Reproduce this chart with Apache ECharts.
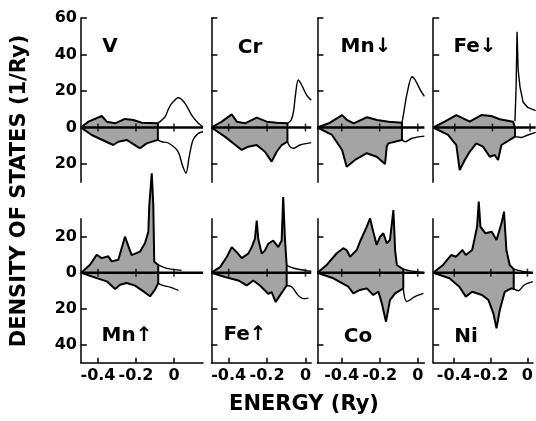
<!DOCTYPE html>
<html>
<head>
<meta charset="utf-8">
<script src="https://cdn.jsdelivr.net/npm/echarts@6/dist/echarts.min.js"></script>
<style>
    html, body { margin: 0; padding: 0; background: #fff; }
    #chart { width: 536px; height: 421px; }
</style>
</head>
<body>
<div id="chart"></div>
<script>
// 各面板的态密度曲线 [能量(Ry), 态密度(1/Ry)]，下半部分取负值
const V_up = [[-0.49,0],[-0.45,3.2],[-0.38,6.3],[-0.354,3.2],[-0.31,2.3],[-0.258,4.7],[-0.214,4.1],[-0.17,2.6],[-0.085,2.3],
    [-0.047,5.9],[-0.03,10],[-0.012,13.2],[0.023,16.3],[0.058,13.2],[0.093,6.8],[0.128,2.3],[0.153,0.4]];
const V_dn = [[-0.49,0],[-0.433,-4.1],[-0.32,-9.6],[-0.293,-7.8],[-0.249,-6.8],[-0.179,-11.4],[-0.144,-8.7],[-0.085,-6.8],
    [-0.065,-7.8],[-0.03,-8.5],[0.02,-13],[0.045,-21],[0.063,-25.1],[0.08,-16],[0.1,-6.8],[0.128,-3.2],[0.153,-2.3]];

const Cr_up = [[-0.49,0],[-0.436,3.2],[-0.384,7.2],[-0.358,3.2],[-0.315,2.3],[-0.254,5.4],[-0.202,3.2],[-0.15,2.6],[-0.094,2.3],
    [-0.075,4],[-0.062,9],[-0.052,18],[-0.038,26],[-0.02,23.3],[0.006,17.8],[0.03,15]];
const Cr_dn = [[-0.49,0],[-0.42,-5],[-0.332,-12.3],[-0.298,-10.5],[-0.254,-9.6],[-0.211,-13.3],[-0.176,-18.7],[-0.15,-13.3],[-0.124,-9.6],[-0.094,-7.8],
    [-0.081,-10.5],[-0.064,-11.4],[-0.029,-9.6],[0.03,-8.3]];

const Mnd_up = [[-0.528,0],[-0.468,2.3],[-0.398,6.8],[-0.372,4.1],[-0.337,2.3],[-0.267,5.6],[-0.214,4.1],[-0.153,3.2],[-0.083,2.6],
    [-0.074,7.8],[-0.056,18.7],[-0.03,27.8],[-0.013,26],[0.014,20.5],[0.035,17]];
const Mnd_dn = [[-0.528,0],[-0.451,-4.1],[-0.398,-12.3],[-0.374,-21.5],[-0.33,-17.8],[-0.268,-14.1],[-0.216,-16],[-0.172,-20],[-0.163,-10.5],[-0.155,-8.7],[-0.083,-6.8],
    [-0.065,-7.8],[-0.03,-5.9],[0.035,-4.7]];

const Fed_up = [[-0.514,0],[-0.454,3.2],[-0.392,6.8],[-0.356,5],[-0.321,3.2],[-0.259,6.8],[-0.206,6.3],[-0.161,4.5],[-0.09,3.2],[-0.08,3.5],
    [-0.074,22],[-0.069,52.5],[-0.063,31.5],[-0.053,22],[-0.037,14],[-0.012,11],[0.03,9.3]];
const Fed_dn = [[-0.514,0],[-0.436,-4.1],[-0.392,-9.6],[-0.374,-23.3],[-0.347,-17.8],[-0.321,-13.3],[-0.286,-8.7],[-0.25,-10.5],[-0.214,-16],[-0.188,-15.1],[-0.17,-17.8],[-0.152,-9.6],[-0.08,-5],
    [-0.046,-5.5],[-0.011,-4.1],[0.03,-2.7]];

const Mnu_up = [[-0.488,0],[-0.442,4.4],[-0.407,10],[-0.381,8.1],[-0.346,9.1],[-0.328,6.3],[-0.293,7.2],[-0.258,20],[-0.223,9.8],[-0.179,11.7],[-0.153,16.3],[-0.135,22.8],[-0.13,37.6],[-0.117,55.2],[-0.109,37.6],[-0.104,6.1],[-0.083,4.3],
    [-0.038,2.4],[0.04,1.3]];
const Mnu_dn = [[-0.488,0],[-0.407,-3],[-0.354,-4.8],[-0.31,-9.1],[-0.284,-6.7],[-0.249,-5.7],[-0.205,-7.2],[-0.161,-10.4],[-0.126,-13.1],[-0.1,-9.4],[-0.083,-5.9],
    [-0.056,-7.2],[-0.021,-8],[0.023,-9.8]];

const Feu_up = [[-0.49,0],[-0.445,3.1],[-0.41,8.7],[-0.384,14.2],[-0.358,11.4],[-0.332,8.1],[-0.298,10.6],[-0.28,14.2],[-0.263,18.9],[-0.254,29],[-0.246,18.9],[-0.228,10.6],[-0.211,12.4],[-0.194,16.1],[-0.168,17.9],[-0.142,14.2],[-0.124,17.9],[-0.116,42],[-0.107,18.9],[-0.098,4.1],
    [-0.064,2.6],[-0.003,1.3],[0.03,0.8]];
const Feu_dn = [[-0.49,0],[-0.419,-2.4],[-0.35,-4.3],[-0.306,-7.1],[-0.272,-4.3],[-0.237,-7.1],[-0.194,-11.7],[-0.176,-10.8],[-0.155,-16.3],[-0.133,-12.6],[-0.098,-7.1],
    [-0.072,-7.8],[-0.038,-12.6],[-0.011,-14.4],[0.015,-14.1]];

const Co_up = [[-0.528,0],[-0.479,4.3],[-0.426,10.8],[-0.392,13.6],[-0.374,12.6],[-0.356,8.9],[-0.321,12.6],[-0.304,17.2],[-0.268,25.6],[-0.251,30.2],[-0.234,22.8],[-0.216,15.4],[-0.198,20],[-0.181,21.9],[-0.163,16.3],[-0.146,18.2],[-0.128,34.8],[-0.119,12.6],[-0.11,4.3],[-0.076,1.9],
    [-0.04,1],[0.035,0]];
const Co_dn = [[-0.528,0],[-0.444,-3.1],[-0.365,-7.8],[-0.339,-11.5],[-0.304,-9.6],[-0.268,-8.7],[-0.234,-12.4],[-0.207,-10.5],[-0.189,-17],[-0.167,-27.2],[-0.146,-15.2],[-0.119,-11.5],[-0.076,-8.7],
    [-0.058,-16],[-0.014,-13.3],[0.03,-11.5]];

const Ni_up = [[-0.515,0],[-0.461,4.3],[-0.417,9.8],[-0.39,8.9],[-0.355,12.6],[-0.337,9.8],[-0.302,12.6],[-0.275,25.6],[-0.266,39.5],[-0.257,25.6],[-0.23,21.9],[-0.195,22.8],[-0.169,18.2],[-0.142,27.4],[-0.128,33.9],[-0.115,12.6],[-0.097,4.3],[-0.075,2],
    [-0.018,0.6],[0.03,0]];
const Ni_dn = [[-0.515,0],[-0.426,-3.1],[-0.372,-7.8],[-0.337,-13.3],[-0.302,-10.6],[-0.248,-12.4],[-0.213,-15.2],[-0.186,-22.6],[-0.169,-30.9],[-0.151,-20.7],[-0.124,-10.6],[-0.089,-8.7],[-0.075,-9],
    [-0.05,-10],[-0.018,-6.9],[0.03,-5]];

// 面板名称、费米能级
const names = ['V', 'Cr', 'Mn↓', 'Fe↓', 'Mn↑', 'Fe↑', 'Co', 'Ni'];
const upCurves = [V_up, Cr_up, Mnd_up, Fed_up, Mnu_up, Feu_up, Co_up, Ni_up];
const dnCurves = [V_dn, Cr_dn, Mnd_dn, Fed_dn, Mnu_dn, Feu_dn, Co_dn, Ni_dn];
const fermi = [-0.085, -0.094, -0.083, -0.08, -0.083, -0.098, -0.076, -0.075];

// 刻度
const energyTicks = [-0.4, -0.2, 0];
const topTicks = [-20, 0, 20, 40, 60];
const bottomTicks = [-40, -20, 0, 20];

// 版面
const colLeft = [80.9, 211.4, 317.4, 433.2];
const colMin = [-0.49, -0.49, -0.528, -0.515];
const colMax = [0.153, 0.03, 0.035, 0.03];
const colScale = [190, 192, 190, 188];
const rows = [
    { top: 18, height: 164.25, min: -30, max: 60, ticks: topTicks },
    { top: 218.7, height: 144, min: -50, max: 30, ticks: bottomTicks }
];
const labelPos = [[110, 47], [250, 48], [366, 47], [475, 47], [127, 336], [245, 335], [358, 337], [466, 337]];

const FONT = 'DejaVu Sans';
const FILL = '#a4a4a4';

const grids = [], xAxes = [], yAxes = [], series = [];

names.forEach((name, i) => {
    const row = i < 4 ? 0 : 1;
    const col = i % 4;
    const r = rows[row];
    const ef = fermi[i];
    grids.push({
        left: colLeft[col],
        top: r.top,
        width: (colMax[col] - colMin[col]) * colScale[col],
        height: r.height
    });
    xAxes.push({
        type: 'value', gridIndex: i, min: colMin[col], max: colMax[col],
        axisLine: { show: row === 1, onZero: false, lineStyle: { color: '#000', width: 1.5 } },
        axisTick: { show: row === 1, inside: true, length: 5, customValues: energyTicks, lineStyle: { color: '#000', width: 1.5 } },
        axisLabel: {
            show: row === 1, customValues: energyTicks, margin: 5,
            color: '#000', fontFamily: FONT, fontWeight: 'bold', fontSize: 16,
            formatter: v => (v === 0 ? '0' : String(v))
        },
        splitLine: { show: false }
    });
    yAxes.push({
        type: 'value', gridIndex: i, min: r.min, max: r.max,
        axisLine: { show: true, onZero: false, lineStyle: { color: '#000', width: 1.5 } },
        axisTick: { show: true, inside: true, length: 6, customValues: r.ticks, lineStyle: { color: '#000', width: 1.5 } },
        axisLabel: {
            show: col === 0, customValues: r.ticks, margin: 4,
            color: '#000', fontFamily: FONT, fontWeight: 'bold', fontSize: 16,
            formatter: v => String(Math.abs(v))
        },
        splitLine: { show: false }
    });

    [upCurves[i], dnCurves[i]].forEach(pts => {
        const fill = pts.filter(p => p[0] <= ef).concat([[ef, 0]]);
        const tail = pts.filter(p => p[0] >= ef);
        series.push({
            type: 'line', xAxisIndex: i, yAxisIndex: i, data: fill,
            symbol: 'none', clip: false, z: 2,
            lineStyle: { color: '#000', width: 2 },
            areaStyle: { color: FILL, opacity: 1 }
        });
        series.push({
            type: 'line', xAxisIndex: i, yAxisIndex: i, data: tail,
            symbol: 'none', clip: false, z: 3,
            smooth: i === 3 ? false : 0.3,
            lineStyle: { color: '#000', width: 1.4 }
        });
    });

    // 零线
    series.push({
        type: 'line', xAxisIndex: i, yAxisIndex: i,
        data: [[colMin[col], 0], [colMax[col], 0]],
        symbol: 'none', clip: false, z: 4,
        lineStyle: { color: '#000', width: 2.5 }
    });
    series.push({
        type: 'scatter', xAxisIndex: i, yAxisIndex: i,
        data: energyTicks.map(e => [e, 0]),
        symbol: 'rect', symbolSize: [1.6, 8], z: 5,
        itemStyle: { color: '#000' }
    });
});

const graphics = names.map((name, i) => ({
    type: 'text', x: labelPos[i][0], y: labelPos[i][1],
    style: {
        text: name, fill: '#000', font: 'bold 20px "' + FONT + '"',
        align: 'center', verticalAlign: 'middle'
    }
}));
graphics.push({
    type: 'text', x: 20, y: 191, rotation: Math.PI / 2,
    style: {
        text: 'DENSITY OF STATES (1/Ry)', fill: '#000', font: 'bold 21px "' + FONT + '"',
        align: 'center', verticalAlign: 'middle'
    }
});
graphics.push({
    type: 'text', x: 304, y: 405,
    style: {
        text: 'ENERGY (Ry)', fill: '#000', font: 'bold 21px "' + FONT + '"',
        align: 'center', verticalAlign: 'middle'
    }
});

const chart = echarts.init(document.getElementById('chart'));
chart.setOption({
    animation: false,
    backgroundColor: '#fff',
    grid: grids,
    xAxis: xAxes,
    yAxis: yAxes,
    series: series,
    graphic: graphics
});
</script>
</body>
</html>
